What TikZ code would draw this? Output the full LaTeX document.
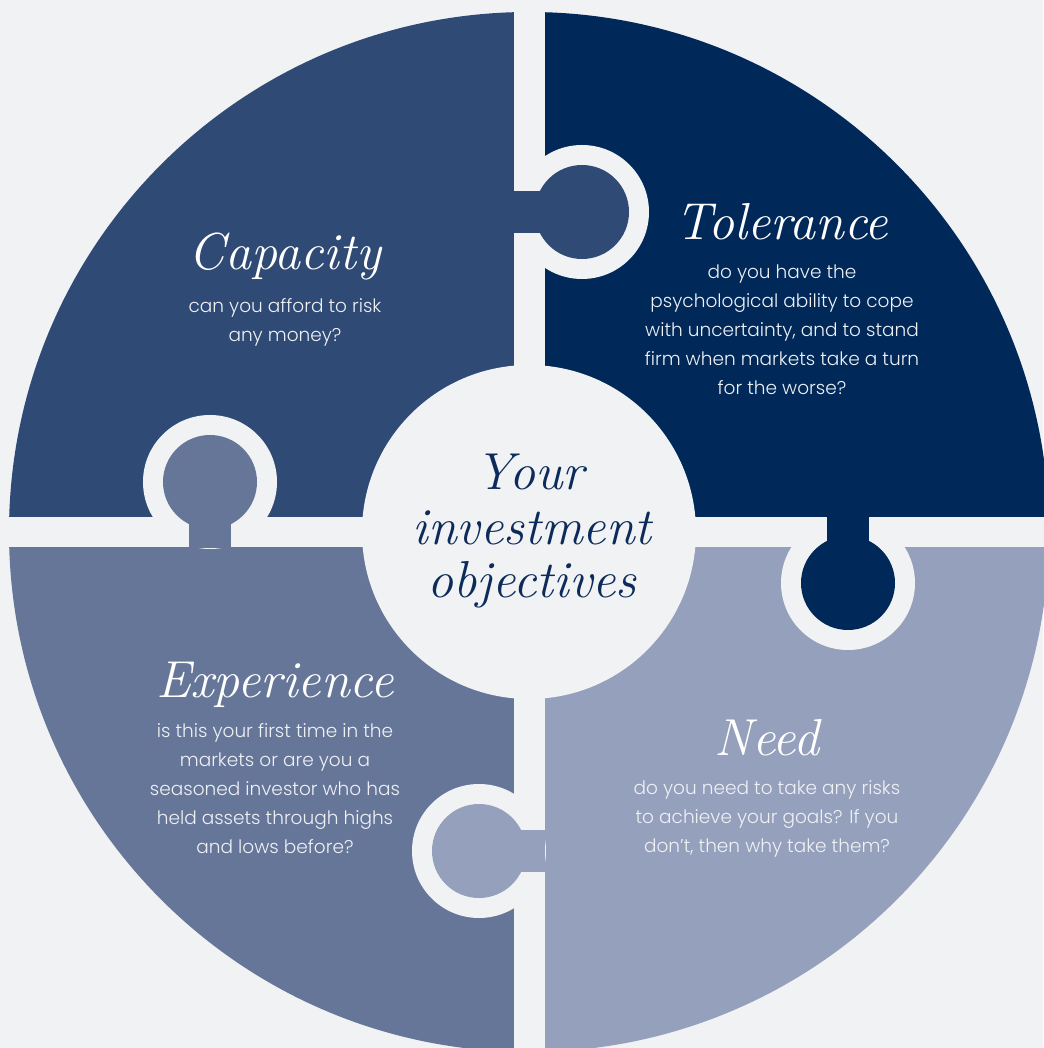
\documentclass[tikz,border=0pt]{standalone}
\usepackage{fontspec}
\newfontfamily\bodyfont{Poppins}[UprightFont={* Light}]
\definecolor{bgcol}{RGB}{241,242,244}
\definecolor{capcol}{RGB}{47,74,117}
\definecolor{tolcol}{RGB}{0,40,88}
\definecolor{expcol}{RGB}{102,118,153}
\definecolor{needcol}{RGB}{149,160,189}
\definecolor{navycol}{RGB}{12,43,91}
\definecolor{textcol}{RGB}{238,240,244}

\begin{document}
\begin{tikzpicture}[x=1pt,y=1pt,
    heading/.style={text=white,font=\fontsize{52}{52}\selectfont\itshape,anchor=base,inner sep=0pt},
    body/.style={text=textcol,font=\bodyfont\fontsize{18.5}{29}\selectfont,align=center,anchor=base,inner sep=0pt}]
        \fill [bgcol] (-529,-516) rectangle (514,532);
        \useasboundingbox (-529,-516) rectangle (514,532);
        % four quarters
        \fill [capcol] (0,0) -- (180:520) arc (180:90:520) -- cycle;
        \fill [tolcol] (0,0) -- (90:520) arc (90:0:520) -- cycle;
        \fill [needcol] (0,0) -- (0:520) arc (0:-90:520) -- cycle;
        \fill [expcol] (0,0) -- (-90:520) arc (-90:-180:520) -- cycle;
        \fill [bgcol] (-15.5,-530) rectangle (15.5,540);
        \fill [bgcol] (-530,-15) rectangle (530,15);
        % puzzle knobs
        \coordinate (capknob) at (53,320);
        \coordinate (tolknob) at (319,-51);
        \coordinate (needknob) at (-50,-319);
        \coordinate (expknob) at (-319,50);
        \fill [bgcol] (capknob) circle (67);
        \fill [bgcol] (tolknob) circle (67);
        \fill [bgcol] (needknob) circle (67);
        \fill [bgcol] (expknob) circle (67);
        \fill [capcol] (capknob) ++(-69,-21) rectangle ++(40,42);
        \fill [tolcol] (tolknob) ++(-21,67) rectangle ++(42,-40);
        \fill [needcol] (needknob) ++(66,-21) rectangle ++(-40,42);
        \fill [expcol] (expknob) ++(-21,-66) rectangle ++(42,40);
        \fill [capcol] (capknob) circle (47);
        \fill [tolcol] (tolknob) circle (47);
        \fill [needcol] (needknob) circle (47);
        \fill [expcol] (expknob) circle (47);
        % middle
        \node [circle,fill=bgcol,minimum size=334,inner sep=0pt] (middle) at (0,0) {};
        \node [heading,text=navycol] (your) at (1,42) {Your};
        \node [heading,text=navycol] (investment) at (3,-13) {investment};
        \node [heading,text=navycol] (objectives) at (3,-66) {objectives};
        % texts
        \node [heading] (capacity) at (-244,262) {Capacity};
        \node [body] (capacitytext) at (-244,190) {can you afford to risk\\any money?};
        \node [heading] (tolerance) at (253,292) {Tolerance};
        \node [body] (tolerancetext) at (253,137) {do you have the\\psychological ability to cope\\with uncertainty, and to stand\\firm when markets take a turn\\for the worse?};
        \node [heading] (experience) at (-254,-165) {Experience};
        \node [body] (experiencetext) at (-254,-321) {is this your first time in the\\markets or are you a\\seasoned investor who has\\held assets through highs\\and lows before?};
        \node [heading] (need) at (238,-223) {Need};
        \node [body] (needtext) at (238,-320) {do you need to take any risks\\to achieve your goals? If you\\don’t, then why take them?};
\end{tikzpicture}
\end{document}
